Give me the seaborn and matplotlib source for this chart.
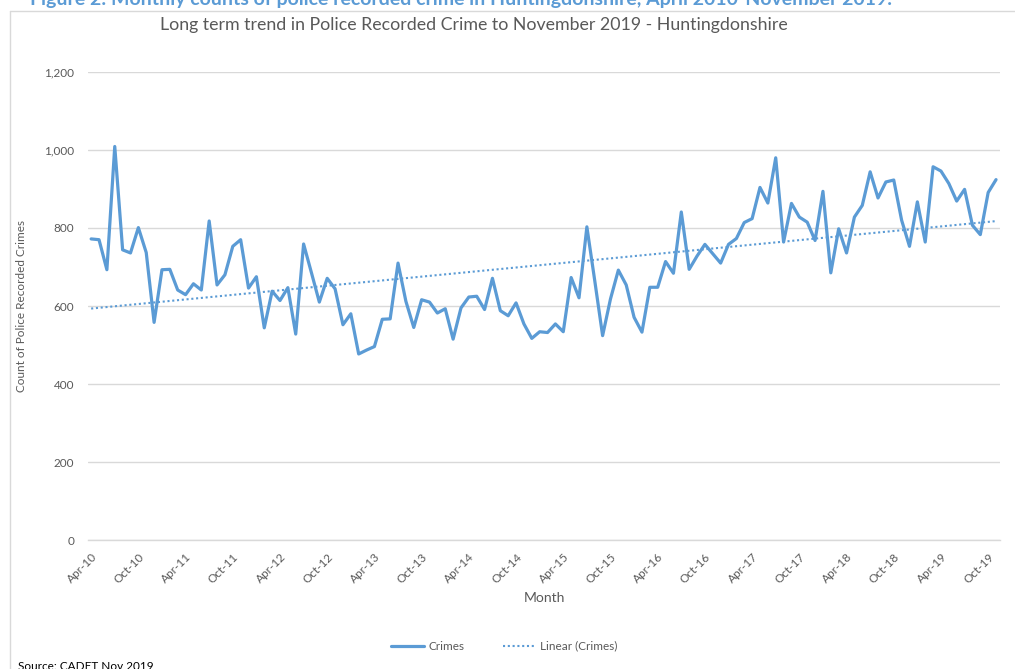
import numpy as np
import pandas as pd
import matplotlib
matplotlib.use("Agg")
import matplotlib.pyplot as plt
from matplotlib.lines import Line2D
import seaborn as sns

# Monthly police recorded crime, Huntingdonshire, Apr 2010 - Nov 2019
crimes = [
    772, 770, 693, 1009, 744, 736, 801, 737, 558, 693, 694, 641,
    629, 657, 641, 818, 654, 680, 753, 770, 646, 675, 544, 638,
    614, 647, 528, 759, 685, 610, 671, 644, 552, 580, 477, 487,
    496, 566, 567, 710, 612, 545, 616, 610, 582, 593, 515, 595,
    623, 625, 591, 671, 588, 575, 608, 554, 517, 534, 532, 554,
    534, 673, 621, 803, 665, 524, 618, 692, 654, 571, 533, 648,
    648, 714, 684, 841, 694, 728, 758, 734, 710, 758, 773, 814,
    824, 904, 864, 980, 764, 863, 828, 815, 768, 894, 685, 798,
    736, 828, 858, 944, 877, 918, 923, 820, 753, 867, 764, 957,
    946, 914, 869, 899, 807, 783, 891, 924,
]
months = pd.date_range("2010-04-01", periods=len(crimes), freq="MS")
tick_labels = [d.strftime("%b-%y") for d in months[::6]]

df = pd.DataFrame({"idx": np.arange(len(crimes)), "Crimes": crimes})

sns.set_theme(style="white")
plt.rcParams["font.family"] = ["Lato", "DejaVu Sans"]

blue = "#5B9BD5"
grey_text = "#595959"

fig = plt.figure(figsize=(10.15, 6.69), dpi=100)
ax = fig.add_axes([0.0867, 0.1928, 0.8985, 0.6996])

sns.lineplot(data=df, x="idx", y="Crimes", ax=ax, color=blue,
             linewidth=2.3, label="Crimes", legend=False)
sns.regplot(data=df, x="idx", y="Crimes", ax=ax, scatter=False, ci=None,
            truncate=True, color=blue,
            line_kws={"linestyle": (0, (1, 1.3)), "linewidth": 1.5})

ax.set_xlim(-0.4, len(crimes) - 0.5)
ax.set_ylim(0, 1200)
ax.set_yticks(np.arange(0, 1201, 200))
ax.set_yticklabels([f"{v:,}" for v in range(0, 1201, 200)],
                   fontsize=8.5, color=grey_text)
ax.set_xticks(df["idx"][::6])
ax.set_xticklabels(tick_labels, rotation=45, ha="right",
                   rotation_mode="anchor", fontsize=8.5, color=grey_text)
ax.tick_params(axis="x", length=4, color="#D9D9D9", pad=4)
ax.tick_params(axis="y", length=0, pad=10)

ax.grid(axis="y", color="#D9D9D9", linewidth=1)
ax.grid(axis="x", visible=False)
for side in ["left", "right", "top"]:
    ax.spines[side].set_visible(False)
ax.spines["bottom"].set_color("#D9D9D9")
ax.spines["bottom"].set_linewidth(1)

ax.set_xlabel("Month", fontsize=10, color=grey_text, labelpad=5)
ax.set_ylabel("Count of Police Recorded Crimes", fontsize=8.5,
              color=grey_text, labelpad=12)

ax.set_title("Long term trend in Police Recorded Crime to November 2019 - Huntingdonshire",
             fontsize=12.8, color=grey_text, pad=30, x=0.423)

handles = [Line2D([0], [0], color=blue, linewidth=2.3),
           Line2D([0], [0], color=blue, linewidth=1.5, linestyle=(0, (1, 1.3)))]
fig.legend(handles, ["Crimes", "Linear (Crimes)"], loc="center",
           bbox_to_anchor=(0.497, 0.034), ncol=2, frameon=False,
           fontsize=8.5, labelcolor=grey_text, handlelength=2.8,
           columnspacing=3.2, handletextpad=0.4)

# chart frame
frame_kw = dict(color="#D9D9D9", linewidth=1, transform=fig.transFigure)
fig.add_artist(Line2D([10 / 1015, 10 / 1015], [0, 1 - 11 / 669], **frame_kw))
fig.add_artist(Line2D([10 / 1015, 1], [1 - 11 / 669, 1 - 11 / 669], **frame_kw))

fig.text(30 / 1015, 1.0, "Figure 2: Monthly counts of police recorded crime in Huntingdonshire, April 2010-November 2019.",
         fontsize=14, fontweight="bold", color=blue, ha="left", va="center")
fig.text(18 / 1015, 3 / 669, "Source: CADET Nov 2019", fontsize=8.5,
         color="#000000", ha="left", va="center")

fig.savefig("out.png", dpi=100)
